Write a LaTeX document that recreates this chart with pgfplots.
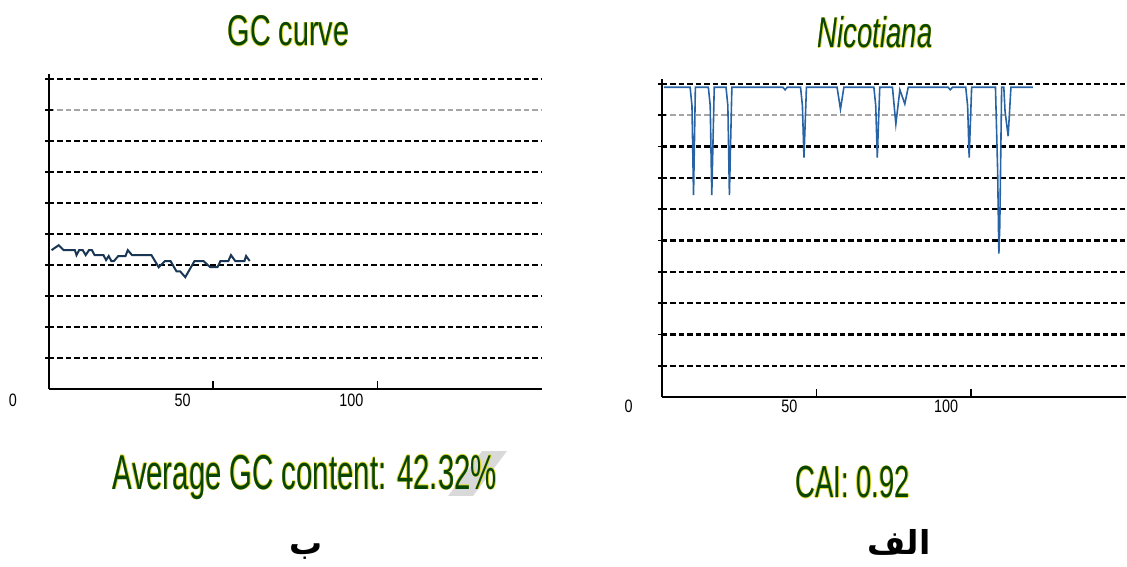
\documentclass[border=0pt]{standalone}
\usepackage{fontspec}
\setmainfont{Liberation Sans}
\newfontfamily\arabicfont[Script=Arabic]{DejaVu Sans}
\TeXXeTstate=1
\usepackage{graphicx}
\usepackage{pgfplots}
\pgfplotsset{compat=1.18}
\definecolor{gctext}{RGB}{8,70,8}
\definecolor{halo}{RGB}{225,215,50}
\definecolor{gcline}{RGB}{25,55,85}
\definecolor{cailine}{RGB}{40,100,165}

\pgfplotsset{panel/.style={
  scale only axis, xmin=0, xmax=150, ymin=0, ymax=10.15,
  axis x line*=bottom, axis y line*=left,
  axis line style={line width=1pt, black},
  xtick={50,100}, xticklabels={}, xtick align=inside,
  ytick={1,2,3,4,5,6,7,8,10}, yticklabels={}, ytick align=center,
  extra y ticks={9}, extra y tick labels={},
  extra y tick style={major grid style={gray!70, line width=0.9pt, dash pattern=on 2.75pt off 1.5pt}},
  major tick length=4pt,
  tick style={black, line width=0.8pt},
  ymajorgrids,
  major grid style={black, line width=1.3pt, dash pattern=on 2.75pt off 1.5pt},
  clip=false,
}}

\newcommand{\halo}[3]{%
  \foreach \dx/\dy in {-0.3/0,0.3/0,0/-0.3,0/0.3}{%
    \node[anchor=#2, text=halo, inner sep=0pt] at ([shift={(\dx pt,\dy pt)}]#1) {#3};}
  \node[anchor=#2, text=gctext, inner sep=0pt] at (#1) {#3};}

\newcommand{\tl}[1]{\scalebox{0.8}[1]{\fontsize{9}{10}\selectfont #1}}

\begin{document}
\begin{tikzpicture}
\begin{scope}[x=0.5pt,y=-0.5pt]
\path[use as bounding box] (0,0) rectangle (1127,568);
\fill[gray!30] (483,452) -- (508,452) -- (474,497) -- (449,497) -- cycle;
\end{scope}

\begin{axis}[panel, at={(24.5pt,-195pt)}, anchor=south west, width=247pt, height=157.85pt]
\addplot[gcline, line width=1pt] coordinates {
(0.8,4.48) (3.0,4.64) (4.5,4.48) (7.9,4.48) (8.4,4.32) (9.2,4.48) (10.3,4.48)
(11.2,4.32) (12.2,4.48) (13.1,4.48) (13.9,4.32) (16.6,4.32) (17.4,4.16) (18.2,4.29)
(19.0,4.13) (19.8,4.13) (21.1,4.29) (23.3,4.29) (24.0,4.48) (25.3,4.32) (31.2,4.32)
(33.4,3.93) (35.3,4.13) (37.0,4.13) (38.8,3.80) (39.9,3.80) (41.5,3.61) (44.3,4.13)
(47.0,4.13) (49.1,3.93) (51.3,3.93) (52.2,4.13) (54.6,4.13) (55.4,4.32) (56.7,4.13)
(59.5,4.13) (60.0,4.29) (61.1,4.13)
};
\end{axis}

\begin{axis}[panel, at={(331.5pt,-199pt)}, anchor=south west, width=232.5pt, height=159.35pt]
\addplot[cailine, line width=0.8pt] coordinates {
(0.7,9.89) (9.2,9.89) (9.8,9.3) (10.3,6.45) (10.9,9.89)
(15.1,9.89) (15.7,9.3) (16.2,6.45) (17.0,9.89)
(20.8,9.89) (21.4,9.3) (21.9,6.45) (22.7,9.89)
(39.2,9.89) (39.9,9.81) (40.6,9.89)
(44.9,9.89) (45.5,9.3) (46.0,7.65) (46.8,9.89)
(56.7,9.89) (57.8,9.19) (58.9,9.89)
(68.6,9.89) (69.2,9.3) (69.7,7.65) (70.5,9.89)
(74.6,9.89) (75.7,8.72) (77.0,9.81) (78.6,9.36) (79.7,9.89)
(92.6,9.89) (93.3,9.81) (94.0,9.89)
(98.3,9.89) (98.9,9.3) (99.4,7.65) (100.2,9.89)
(107.9,9.89) (108.6,7.24) (109.0,4.58) (109.3,5.48) (109.9,9.89)
(110.6,9.89) (111.0,9.12) (112.0,8.33) (112.9,9.89)
(120.0,9.89)
};
\end{axis}

\begin{scope}[x=0.5pt,y=-0.5pt]
% tick labels
\node[anchor=base, inner sep=0pt] at (13,407) {\tl{0}};
\node[anchor=base, inner sep=0pt] at (183,407) {\tl{50}};
\node[anchor=base, inner sep=0pt] at (352,407) {\tl{100}};
\node[anchor=base, inner sep=0pt] at (630,413) {\tl{0}};
\node[anchor=base, inner sep=0pt] at (791,413) {\tl{50}};
\node[anchor=base, inner sep=0pt] at (948,413) {\tl{100}};
% titles
\halo{289,46}{base}{\scalebox{0.67}[1]{\fontsize{21.5}{24}\selectfont GC curve}}
\halo{877,48}{base}{\scalebox{0.64}[1]{\fontsize{21.5}{24}\selectfont\itshape Nicotiana}}
% captions
\halo{305.5,490}{base}{\scalebox{0.60}[1]{\fontsize{24.5}{28}\selectfont Average GC content: 42.32\%}}
\halo{854.5,499}{base}{\scalebox{0.61}[1]{\fontsize{22.5}{26}\selectfont CAI: 0.92}}
% Arabic labels
\node[anchor=base, inner sep=0pt] at (307,556) {\fontsize{16.5}{19}\selectfont\arabicfont\bfseries\beginR ب\endR};
\node[anchor=base, inner sep=0pt] at (901,556) {\fontsize{16.5}{19}\selectfont\arabicfont\bfseries\beginR الف\endR};
\end{scope}
\end{tikzpicture}
\end{document}
